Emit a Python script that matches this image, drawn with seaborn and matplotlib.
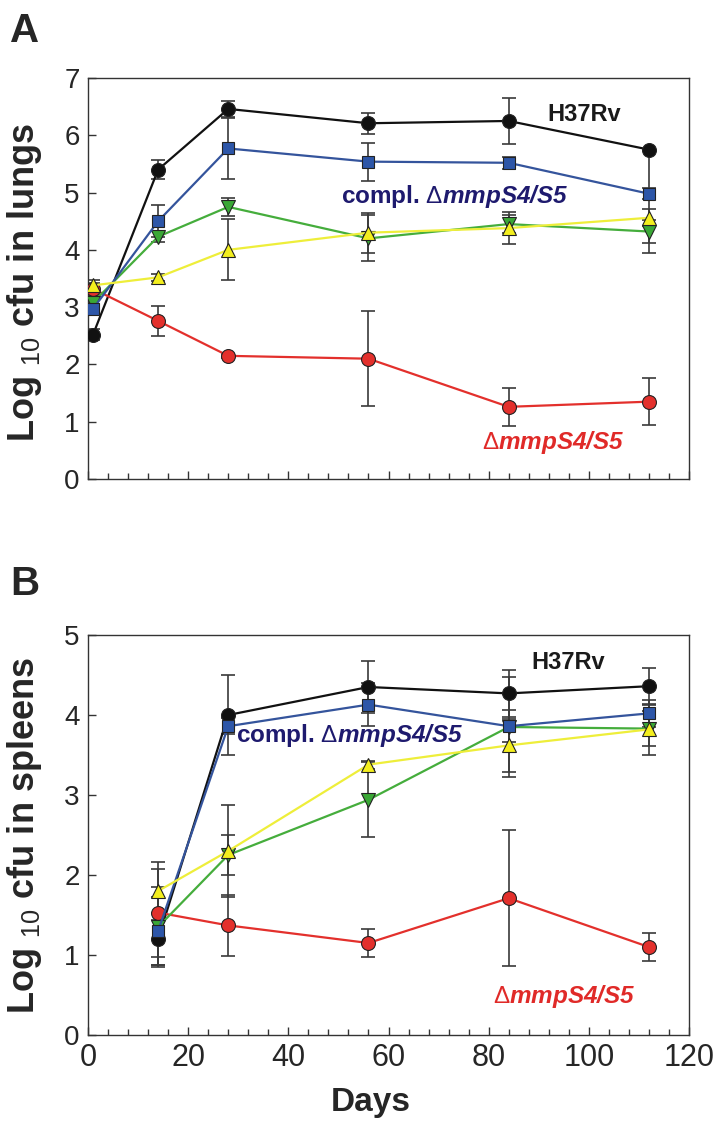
import numpy as np
import pandas as pd
import matplotlib
matplotlib.use('Agg')
import matplotlib.pyplot as plt
from matplotlib.ticker import MultipleLocator
import seaborn as sns

sns.set_style('ticks')
plt.rcParams['font.family'] = ['Liberation Sans', 'DejaVu Sans']
plt.rcParams['mathtext.fontset'] = 'custom'
plt.rcParams['mathtext.rm'] = 'Liberation Sans'
plt.rcParams['mathtext.it'] = 'Liberation Sans:italic'
plt.rcParams['mathtext.bf'] = 'Liberation Sans:bold'
plt.rcParams['mathtext.bfit'] = 'Liberation Sans:italic:bold'

# 日数
days_lung = [1, 14, 28, 56, 84, 112]
days_spleen = [14, 28, 56, 84, 112]

# 肺 (A)
h37_lung = [2.52, 5.4, 6.46, 6.21, 6.25, 5.75]
h37_lung_lo = [0.1, 0.17, 0.14, 0.18, 0.4, 1.8]
h37_lung_hi = [0.1, 0.17, 0.14, 0.18, 0.4, 0.0]
compl_lung = [2.97, 4.5, 5.77, 5.54, 5.52, 4.98]
compl_lung_err = [0.08, 0.28, 0.53, 0.33, 0.1, 0.1]
green_lung = [3.08, 4.23, 4.75, 4.2, 4.45, 4.32]
green_lung_err = [0.08, 0.1, 0.16, 0.4, 0.15, 0.2]
yellow_lung = [3.38, 3.52, 4.0, 4.3, 4.38, 4.56]
yellow_lung_err = [0.1, 0.06, 0.53, 0.35, 0.28, 0.15]
mut_lung = [3.32, 2.76, 2.15, 2.1, 1.26, 1.35]
mut_lung_err = [0.1, 0.26, 0.04, 0.83, 0.33, 0.41]

# 脾臓 (B)
h37_spleen = [1.2, 4.0, 4.35, 4.27, 4.36]
h37_spleen_err = [0.33, 0.5, 0.32, 0.29, 0.23]
compl_spleen = [1.3, 3.86, 4.13, 3.86, 4.02]
compl_spleen_err = [0.43, 0.1, 0.27, 0.2, 0.17]
green_spleen = [1.35, 2.25, 2.94, 3.85, 3.83]
green_spleen_err = [0.5, 0.25, 0.47, 0.62, 0.22]
yellow_spleen = [1.8, 2.3, 3.38, 3.62, 3.82]
yellow_spleen_err = [0.36, 0.58, 0.05, 0.33, 0.32]
mut_spleen = [1.53, 1.37, 1.15, 1.71, 1.1]
mut_spleen_err = [0.55, 0.38, 0.18, 0.85, 0.17]

# 系列のスタイル: (線色, 塗り色, マーカー, サイズ)
styles = {
    'H37Rv': ('#111111', '#111111', 'o', 10),
    'mut': ('#e3302c', '#e3302c', 'o', 10),
    'green': ('#45ad3c', '#3aa836', 'v', 10),
    'compl': ('#34549c', '#2d56a8', 's', 8.5),
    'yellow': ('#eeee3a', '#f3ee1e', '^', 10),
}

fig = plt.figure(figsize=(7.22, 11.35), dpi=100)
axA = fig.add_axes([88 / 722, 1 - 479 / 1135, 601 / 722, 401 / 1135])
axB = fig.add_axes([88 / 722, 1 - 1035 / 1135, 601 / 722, 400 / 1135])

lung = {
    'H37Rv': (h37_lung, [h37_lung_lo, h37_lung_hi]),
    'mut': (mut_lung, mut_lung_err),
    'green': (green_lung, green_lung_err),
    'compl': (compl_lung, compl_lung_err),
    'yellow': (yellow_lung, yellow_lung_err),
}
spleen = {
    'H37Rv': (h37_spleen, h37_spleen_err),
    'mut': (mut_spleen, mut_spleen_err),
    'green': (green_spleen, green_spleen_err),
    'compl': (compl_spleen, compl_spleen_err),
    'yellow': (yellow_spleen, yellow_spleen_err),
}


def draw_panel(ax, days, series):
    # エラーバーを先に描く
    for name, (vals, err) in series.items():
        ax.errorbar(days, vals, yerr=err, fmt='none', ecolor='#3a3a3a',
                    elinewidth=1.2, capsize=5, capthick=1.2, zorder=1)
    for i, (name, (vals, err)) in enumerate(series.items()):
        lc, fc, mk, ms = styles[name]
        df = pd.DataFrame({'day': days, 'log_cfu': vals})
        sns.lineplot(data=df, x='day', y='log_cfu', ax=ax, color=lc,
                     marker=mk, markersize=ms, markerfacecolor=fc,
                     markeredgecolor='#222222', markeredgewidth=0.8,
                     linewidth=1.6, zorder=3 + i)
    ax.set_xlim(0, 120)
    ax.xaxis.set_major_locator(MultipleLocator(20))
    ax.xaxis.set_minor_locator(MultipleLocator(4))
    ax.yaxis.set_major_locator(MultipleLocator(1))
    ax.tick_params(axis='both', which='both', direction='in', color='#333333')
    ax.tick_params(axis='x', which='major', length=6, width=1)
    ax.tick_params(axis='x', which='minor', length=4, width=1)
    ax.tick_params(axis='y', which='major', length=6, width=1, labelsize=20, pad=6)
    ax.tick_params(axis='x', labelsize=22, pad=6)
    for sp in ax.spines.values():
        sp.set_linewidth(1.0)
        sp.set_color('#333333')


draw_panel(axA, days_lung, lung)
axA.set_ylim(0, 7)
axA.tick_params(axis='x', labelbottom=False)
axA.set_xlabel('')
axA.set_ylabel('Log $_{10}$ cfu in lungs', fontsize=26, fontweight='bold')
axA.yaxis.set_label_coords(-0.073, 0.49)

draw_panel(axB, days_spleen, spleen)
axB.set_ylim(0, 5)
axB.set_ylabel('Log $_{10}$ cfu in spleens', fontsize=26, fontweight='bold')
axB.yaxis.set_label_coords(-0.073, 0.5)
axB.set_xlabel('Days', fontsize=24, fontweight='bold')
axB.xaxis.set_label_coords(0.47, -0.13)

# 注釈
navy = '#1e1a6e'
red = '#e02a28'
axA.text(99, 6.36, 'H37Rv', fontsize=17, fontweight='bold', color='#1a1a1a',
         ha='center', va='center')
axA.text(50.5, 4.93, r'compl. $\Delta\mathbfit{mmpS4/S5}$', fontsize=17.5,
         fontweight='bold', color=navy, ha='left', va='center')
axA.text(92.8, 0.63, r'$\Delta\mathbfit{mmpS4/S5}$', fontsize=17.5,
         color=red, ha='center', va='center')

axB.text(95.8, 4.65, 'H37Rv', fontsize=17, fontweight='bold', color='#1a1a1a',
         ha='center', va='center')
axB.text(29.5, 3.74, r'compl. $\Delta\mathbfit{mmpS4/S5}$', fontsize=17.5,
         fontweight='bold', color=navy, ha='left', va='center')
axB.text(95, 0.48, r'$\Delta\mathbfit{mmpS4/S5}$', fontsize=17.5,
         color=red, ha='center', va='center')

fig.text(10 / 722, 1 - 42 / 1135, 'A', fontsize=29, fontweight='bold', va='baseline')
fig.text(10 / 722, 1 - 595 / 1135, 'B', fontsize=29, fontweight='bold', va='baseline')

fig.savefig('out.png', dpi=100)
